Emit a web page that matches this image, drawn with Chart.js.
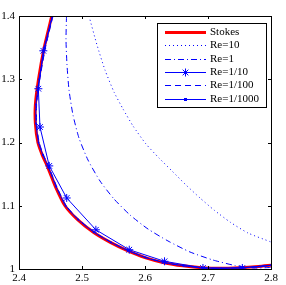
<!DOCTYPE html>
<html>
<head>
<meta charset="utf-8">
<script src="https://cdn.jsdelivr.net/npm/chart.js@4.4.0/dist/chart.umd.min.js"></script>
<style>
  body { margin: 0; background: #fff; }
  canvas { display: block; }
</style>
</head>
<body>
<canvas id="chart" width="286" height="285"></canvas>
<script>
// tick labels
const xTicks = [2.4, 2.5, 2.6, 2.7, 2.8];
const yTicks = [1, 1.1, 1.2, 1.3, 1.4];

// Stokes solution
const stokesX = [2.452, 2.440, 2.431, 2.426, 2.426, 2.430, 2.437, 2.446, 2.458, 2.473, 2.493, 2.518, 2.545, 2.572, 2.600, 2.630, 2.660, 2.690, 2.720, 2.750, 2.780, 2.800];
const stokesY = [1.400, 1.350, 1.300, 1.260, 1.230, 1.200, 1.180, 1.160, 1.130, 1.100, 1.078, 1.058, 1.042, 1.029, 1.018, 1.010, 1.005, 1.002, 1.001, 1.002, 1.004, 1.006];

// Re=10
const re10X = [2.5111, 2.5238, 2.5365, 2.5508, 2.5651, 2.5810, 2.6016, 2.6222, 2.6429, 2.6651, 2.6873, 2.7095, 2.7349, 2.7635, 2.800];
const re10Y = [1.400, 1.3542, 1.3146, 1.2798, 1.2530, 1.2261, 1.1976, 1.1755, 1.1549, 1.1328, 1.1123, 1.0933, 1.0743, 1.0569, 1.0427];

// Re=1
const re1X = [2.4754, 2.4746, 2.4762, 2.4794, 2.4857, 2.4952, 2.5095, 2.5286, 2.5508, 2.5762, 2.6048, 2.6365, 2.6714, 2.7079, 2.7429, 2.7730, 2.800];
const re1Y = [1.400, 1.3621, 1.3225, 1.2830, 1.2435, 1.2071, 1.1723, 1.1391, 1.1107, 1.0854, 1.0632, 1.0443, 1.0269, 1.0142, 1.0055, 1.0016, 1.0024];

// Re=1/10 (markers)
const re01X = [2.453, 2.4386, 2.4307, 2.4333, 2.448, 2.4757, 2.522, 2.575, 2.631, 2.692, 2.7545, 2.800];
const re01Y = [1.400, 1.345, 1.285, 1.2245, 1.163, 1.1123, 1.062, 1.0305, 1.0122, 1.0016, 1.0016, 1.006];

// Re=1/100
const re001X = [2.454, 2.442, 2.433, 2.428, 2.428, 2.432, 2.439, 2.448, 2.460, 2.475, 2.495, 2.520, 2.547, 2.574, 2.602, 2.632, 2.662, 2.692, 2.722, 2.752, 2.782, 2.800];
const re001Y = [1.400, 1.350, 1.300, 1.260, 1.230, 1.200, 1.180, 1.160, 1.130, 1.100, 1.078, 1.058, 1.042, 1.029, 1.018, 1.010, 1.005, 1.002, 1.001, 1.002, 1.004, 1.006];

// Re=1/1000
const re0001X = [2.453, 2.441, 2.432, 2.427, 2.427, 2.431, 2.438, 2.447, 2.459, 2.474, 2.494, 2.519, 2.546, 2.573, 2.601, 2.631, 2.661, 2.691, 2.721, 2.751, 2.781, 2.800];
const re0001Y = [1.400, 1.350, 1.300, 1.260, 1.230, 1.200, 1.180, 1.160, 1.130, 1.100, 1.078, 1.058, 1.042, 1.029, 1.018, 1.010, 1.005, 1.002, 1.001, 1.002, 1.004, 1.006];

const pts = (xs, ys) => xs.map((x, i) => ({ x: x, y: ys[i] }));
const FONT = '"Liberation Serif", "DejaVu Serif", serif';

// boxed axes with inward ticks (matlab look)
const boxPlugin = {
    id: 'box',
    afterDraw(chart) {
        const ctx = chart.ctx;
        const a = chart.chartArea;
        const sx = chart.scales.x, sy = chart.scales.y;
        ctx.save();
        ctx.strokeStyle = '#000';
        ctx.lineWidth = 1;
        ctx.strokeRect(a.left + 0.5, a.top + 0.5, a.right - a.left, a.bottom - a.top);
        ctx.beginPath();
        xTicks.forEach(v => {
            const px = Math.round(sx.getPixelForValue(v)) + 0.5;
            ctx.moveTo(px, a.bottom); ctx.lineTo(px, a.bottom - 3);
            ctx.moveTo(px, a.top); ctx.lineTo(px, a.top + 3);
        });
        yTicks.forEach(v => {
            const py = Math.round(sy.getPixelForValue(v)) + 0.5;
            ctx.moveTo(a.left, py); ctx.lineTo(a.left + 3, py);
            ctx.moveTo(a.right, py); ctx.lineTo(a.right - 3, py);
        });
        ctx.stroke();
        ctx.restore();
    }
};

// legend box in upper right
const legendPlugin = {
    id: 'boxLegend',
    afterDraw(chart) {
        const ctx = chart.ctx;
        const left = 157, top = 23, w = 109, h = 84;
        ctx.save();
        ctx.fillStyle = '#fff';
        ctx.fillRect(left, top, w, h);
        ctx.strokeStyle = '#000';
        ctx.lineWidth = 1;
        ctx.strokeRect(left + 0.5, top + 0.5, w, h);
        ctx.font = '11px ' + FONT;
        ctx.textBaseline = 'middle';
        chart.data.datasets.forEach((ds, i) => {
            const y = Math.round(top + 9 + i * 13.3) + 0.5;
            ctx.strokeStyle = ds.borderColor;
            ctx.lineWidth = ds.borderWidth;
            ctx.setLineDash(ds.borderDash || []);
            ctx.beginPath();
            ctx.moveTo(165, y);
            ctx.lineTo(206, y);
            ctx.stroke();
            ctx.setLineDash([]);
            if (ds.legendMarker === 'star') {
                ctx.lineWidth = 1;
                ctx.beginPath();
                const c = 185.5, r = 4;
                for (let k = 0; k < 4; k++) {
                    const ang = k * Math.PI / 4;
                    ctx.moveTo(c - r * Math.cos(ang), y - r * Math.sin(ang));
                    ctx.lineTo(c + r * Math.cos(ang), y + r * Math.sin(ang));
                }
                ctx.stroke();
            } else if (ds.legendMarker === 'dot') {
                ctx.fillStyle = ds.borderColor;
                ctx.fillRect(184, y - 1.5, 3, 3);
            }
            ctx.fillStyle = '#000';
            ctx.fillText(ds.label, 210, y);
        });
        ctx.restore();
    }
};

const endR = (n, r) => Array.from({ length: n }, (_, i) => (i === 0 || i === n - 1) ? 0 : r);

new Chart(document.getElementById('chart'), {
    type: 'scatter',
    data: {
        datasets: [
            { label: 'Stokes', data: pts(stokesX, stokesY), showLine: true, borderColor: '#ff0000', borderWidth: 3, pointRadius: 0, tension: 0.2, order: 5 },
            { label: 'Re=10', data: pts(re10X, re10Y), showLine: true, borderColor: '#0000ff', borderWidth: 1, borderDash: [1, 3], pointRadius: 0, tension: 0.2 },
            { label: 'Re=1', data: pts(re1X, re1Y), showLine: true, borderColor: '#0000ff', borderWidth: 1, borderDash: [6, 3, 1, 3], pointRadius: 0, tension: 0.2 },
            { label: 'Re=1/10', data: pts(re01X, re01Y), showLine: true, borderColor: '#0000ff', backgroundColor: '#0000ff', borderWidth: 1, pointStyle: 'star', pointRadius: endR(re01X.length, 4), pointBorderWidth: 1, tension: 0, legendMarker: 'star' },
            { label: 'Re=1/100', data: pts(re001X, re001Y), showLine: true, borderColor: '#0000ff', borderWidth: 1, borderDash: [6, 4], pointRadius: 0, tension: 0.2 },
            { label: 'Re=1/1000', data: pts(re0001X, re0001Y), showLine: true, borderColor: '#0000ff', backgroundColor: '#0000ff', borderWidth: 1, pointRadius: 1, pointBorderWidth: 0, tension: 0.2, legendMarker: 'dot' }
        ]
    },
    options: {
        responsive: false,
        animation: false,
        layout: { padding: { top: 16, right: 15, left: 0, bottom: 0 } },
        plugins: {
            legend: { display: false },
            tooltip: { enabled: false }
        },
        scales: {
            x: {
                type: 'linear',
                min: 2.4,
                max: 2.8,
                afterBuildTicks: s => { s.ticks = xTicks.map(v => ({ value: v })); },
                afterFit: s => { s.height = 16; },
                grid: { display: false, drawTicks: false },
                border: { display: false },
                ticks: { padding: 3, color: '#000', font: { family: FONT, size: 11 }, callback: v => String(v) }
            },
            y: {
                type: 'linear',
                min: 1,
                max: 1.4,
                afterBuildTicks: s => { s.ticks = yTicks.map(v => ({ value: v })); },
                afterFit: s => { s.width = 19; },
                grid: { display: false, drawTicks: false },
                border: { display: false },
                ticks: { padding: 4, color: '#000', font: { family: FONT, size: 11 }, callback: v => String(v) }
            }
        }
    },
    plugins: [boxPlugin, legendPlugin]
});
</script>
</body>
</html>
